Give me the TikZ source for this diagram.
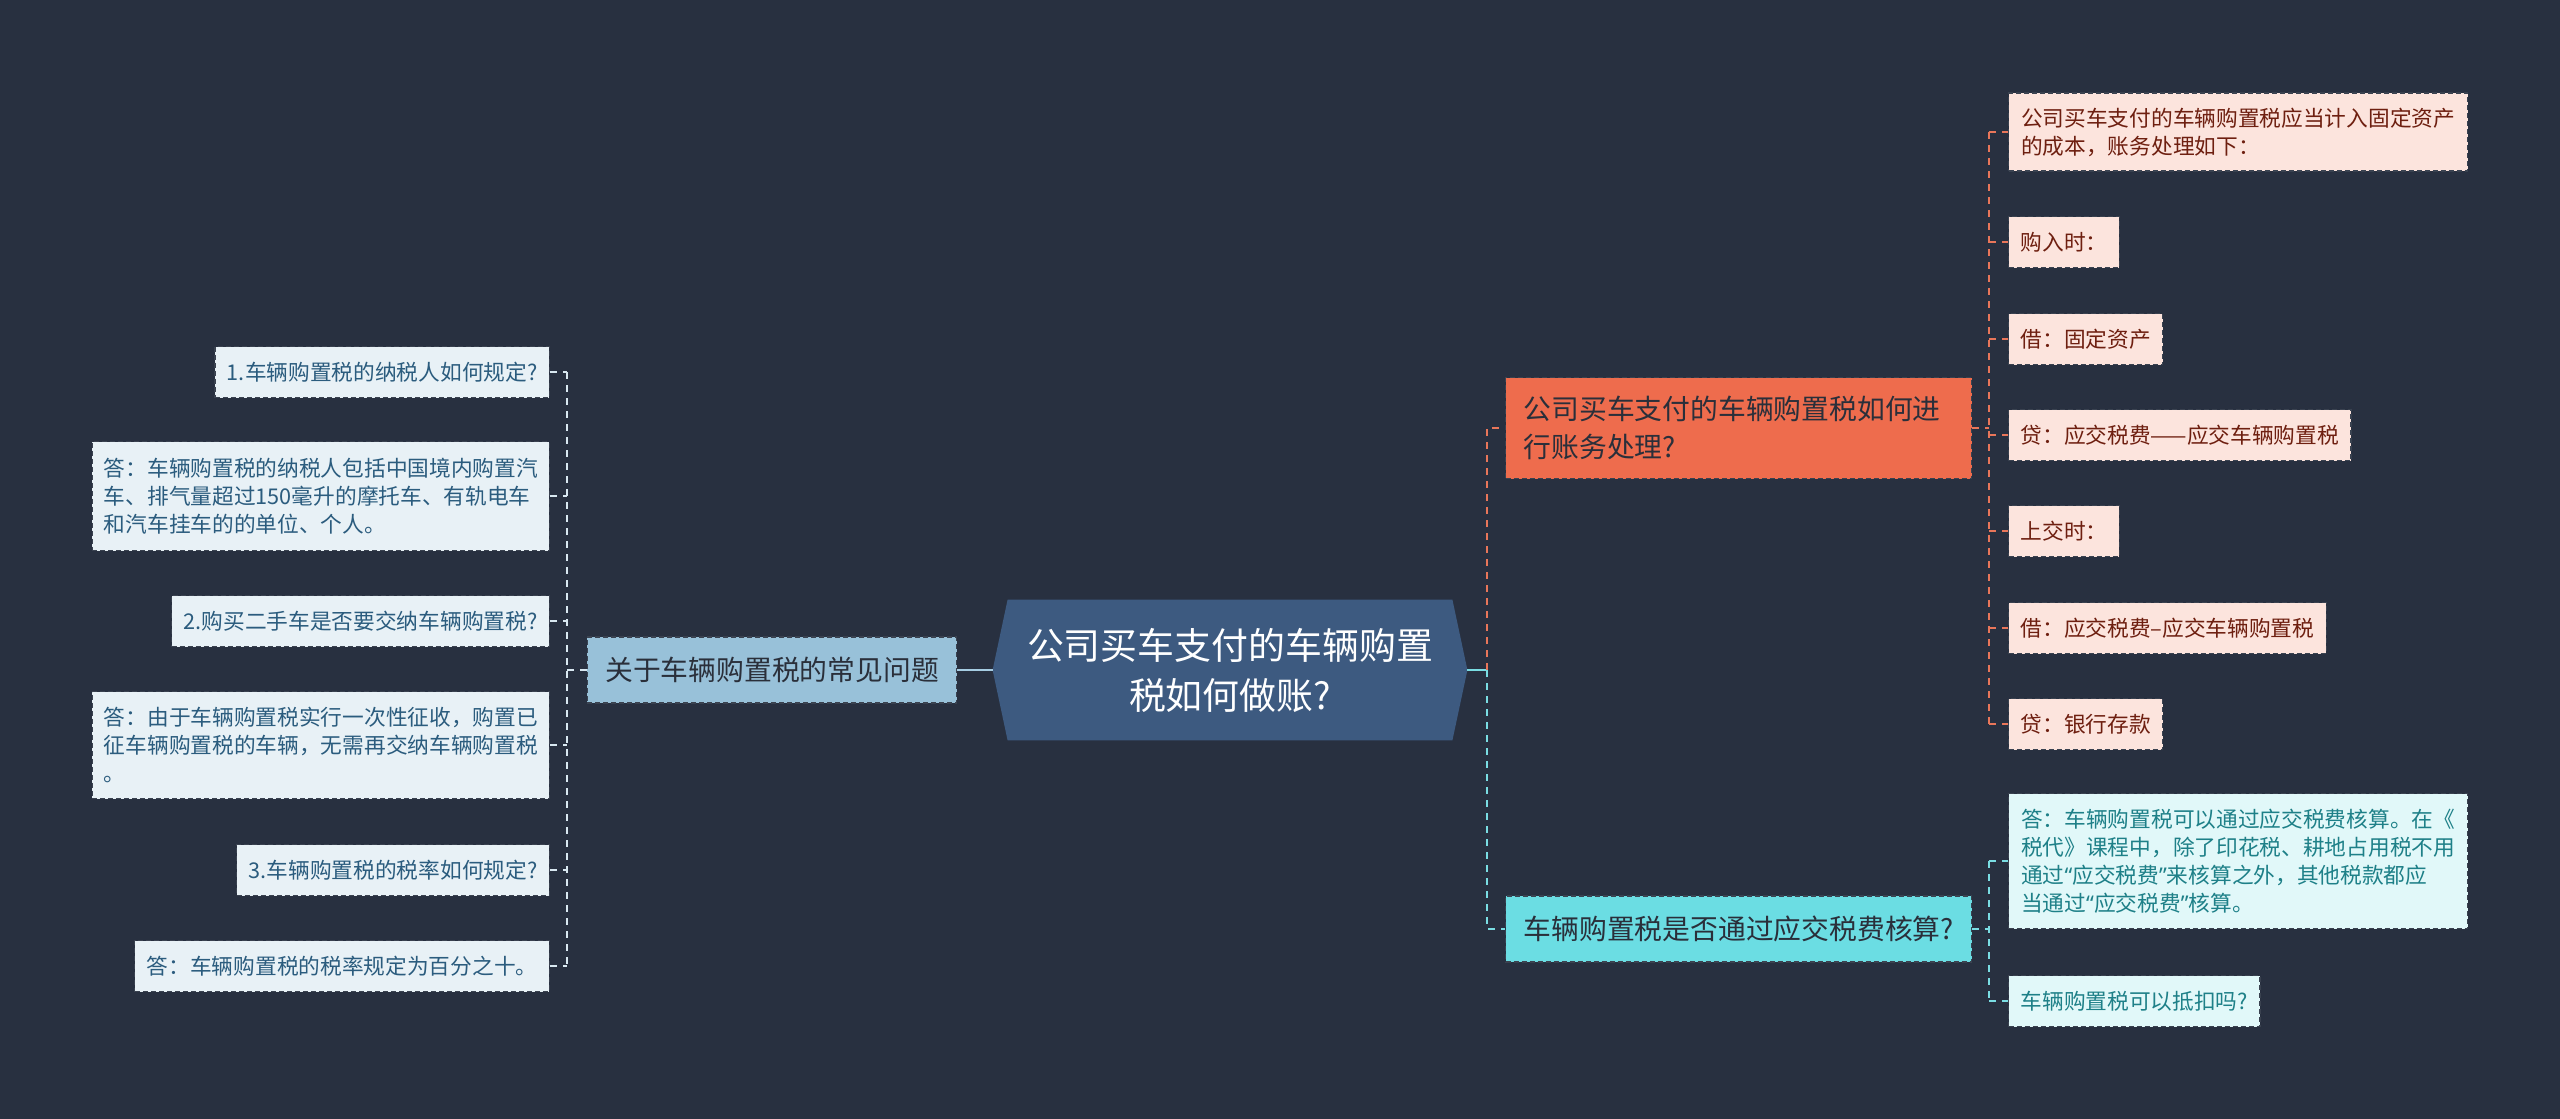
\documentclass[tikz,border=0pt]{standalone}
\usepackage{fontspec}
\setmainfont{Noto Sans CJK SC}
\newfontfamily\latinq{Noto Sans}
\newcommand{\myLq}{{\latinq “}}
\newcommand{\myRq}{{\latinq ”}}
\definecolor{bgc}{HTML}{283040}
\definecolor{cenfill}{HTML}{3D5A80}
\definecolor{lmfill}{HTML}{98C1D9}
\definecolor{lfill}{HTML}{E8F1F6}
\definecolor{ltext}{HTML}{2B5C7E}
\definecolor{omfill}{HTML}{EE6C4D}
\definecolor{ofill}{HTML}{FCE4DD}
\definecolor{otext}{HTML}{6E1F10}
\definecolor{cmfill}{HTML}{6BDDE3}
\definecolor{cfill}{HTML}{E1F8F9}
\definecolor{ctext}{HTML}{1E8088}
\definecolor{darktext}{HTML}{2A2F3A}
\definecolor{bordc}{HTML}{3A4250}
\definecolor{lline}{HTML}{D9E8F1}
\definecolor{lsolid}{HTML}{A6CDE3}
\definecolor{oline}{HTML}{E9765A}
\definecolor{cline}{HTML}{7ADDE3}
\begin{document}
\begin{tikzpicture}[x=0.5pt,y=-0.5pt,
  box/.style={rectangle, inner ysep=0pt, inner xsep=6pt, draw=bordc,
    line width=0.6pt, dash pattern=on 2.5pt off 1.5pt},
  smallfont/.style={font=\fontsize{10.85pt}{14pt}\selectfont},
  lchild/.style={box, smallfont, fill=lfill, text=ltext, minimum height=25.5pt, anchor=east, align=left},
  ochild/.style={box, smallfont, fill=ofill, text=otext, minimum height=25.5pt, anchor=west, align=left},
  cchild/.style={box, smallfont, fill=cfill, text=ctext, minimum height=25.5pt, anchor=west, align=left},
  mainbox/.style={box, font=\fontsize{13.9pt}{19pt}\selectfont, text=darktext, inner xsep=9pt},
  conn/.style={line width=1pt, dash pattern=on 3.5pt off 3pt},
  lconn/.style={conn, draw=lline},
  oconn/.style={conn, draw=oline},
  cconn/.style={conn, draw=cline}
]
\fill[bgc] (0,0) rectangle (2560,1119);
\useasboundingbox (0,0) rectangle (2560,1119);

% central node
\node[rectangle, minimum width=237pt, minimum height=70pt, inner sep=0pt] (cen) at (1230,670) {};
\fill[cenfill] (cen.west) -- ([xshift=7.5pt]cen.north west) -- ([xshift=-7.5pt]cen.north east)
  -- (cen.east) -- ([xshift=-7.5pt]cen.south east) -- ([xshift=7.5pt]cen.south west) -- cycle;
\node[font=\fontsize{18.45pt}{25pt}\selectfont, text=white, align=center] (centext) at (cen.center)
  {公司买车支付的车辆购置\\税如何做账?};

% left main
\node[mainbox, fill=lmfill, minimum width=183pt, minimum height=33pt] (lm) at (772,670) {关于车辆购置税的常见问题};

% left children
\node[lchild] (l1) at (550,372) {1.车辆购置税的纳税人如何规定?};
\node[lchild, text width=217pt, inner xsep=5.75pt, minimum height=54.5pt] (l2) at (550,496)
  {答：车辆购置税的纳税人包括中国境内购置汽\\车、排气量超过150毫升的摩托车、有轨电车\\和汽车挂车的的单位、个人。};
\node[lchild] (l3) at (550,621) {2.购买二手车是否要交纳车辆购置税?};
\node[lchild, text width=217pt, inner xsep=5.75pt, minimum height=53.5pt] (l4) at (550,745)
  {答：由于车辆购置税实行一次性征收，购置已\\征车辆购置税的车辆，无需再交纳车辆购置税\\。};
\node[lchild] (l5) at (550,870) {3.车辆购置税的税率如何规定?};
\node[lchild] (l6) at (550,966) {答：车辆购置税的税率规定为百分之十。};

% right mains
\node[mainbox, fill=omfill, anchor=west, minimum width=233pt, text width=215pt, align=left, minimum height=50.5pt] (om) at (1505,428)
  {公司买车支付的车辆购置税如何进\\行账务处理?};
\node[mainbox, fill=cmfill, anchor=west, minimum width=233pt, minimum height=33pt] (cm) at (1505,929)
  {车辆购置税是否通过应交税费核算?};

% orange children
\node[ochild, text width=217pt, inner xsep=6.25pt, minimum height=39pt] (oa) at (2008,132)
  {公司买车支付的车辆购置税应当计入固定资产\\的成本，账务处理如下：};
\node[ochild] (ob) at (2008,242) {购入时：};
\node[ochild] (oc) at (2008,339) {借：固定资产};
\node[ochild] (od) at (2008,435) {贷：应交税费——应交车辆购置税};
\node[ochild] (oe) at (2008,531) {上交时：};
\node[ochild] (of) at (2008,628) {借：应交税费–应交车辆购置税};
\node[ochild] (og) at (2008,724) {贷：银行存款};

% cyan children
\node[cchild, text width=217pt, inner xsep=6.25pt, minimum height=67.5pt] (ca) at (2008,861)
  {答：车辆购置税可以通过应交税费核算。在《\\税代》课程中，除了印花税、耕地占用税不用\\通过\myLq 应交税费\myRq 来核算之外，其他税款都应\\当通过\myLq 应交税费\myRq 核算。};
\node[cchild] (cb) at (2008,1001) {车辆购置税可以抵扣吗?};

% trunk coordinates
\coordinate (LT) at (567,670);
\coordinate (RT) at (1487,670);
\coordinate (OT) at (1989,428);
\coordinate (CT) at (1989,929);

% left connectors
\draw[line width=1.2pt, draw=lsolid] (cen.west) -- (lm.east);
\draw[lconn] (lm.west) -- (LT);
\draw[lconn] (l1.east -| LT) -- (l6.east -| LT);
\foreach \n in {l1,l2,l3,l4,l5,l6} { \draw[lconn] (\n.east) -- (\n.east -| LT); }

% right main connectors
\draw[line width=1.2pt, draw=cline] (cen.east) -- (RT);
\draw[oconn] (RT) -- (RT |- om.west) -- (om.west);
\draw[cconn] (RT) -- (RT |- cm.west) -- (cm.west);

% orange children connectors
\draw[oconn] (om.east) -- (OT);
\draw[oconn] (oa.west -| OT) -- (og.west -| OT);
\foreach \n in {oa,ob,oc,od,oe,of,og} { \draw[oconn] (\n.west -| OT) -- (\n.west); }

% cyan children connectors
\draw[cconn] (cm.east) -- (CT);
\draw[cconn] (ca.west -| CT) -- (cb.west -| CT);
\foreach \n in {ca,cb} { \draw[cconn] (\n.west -| CT) -- (\n.west); }
\end{tikzpicture}
\end{document}
